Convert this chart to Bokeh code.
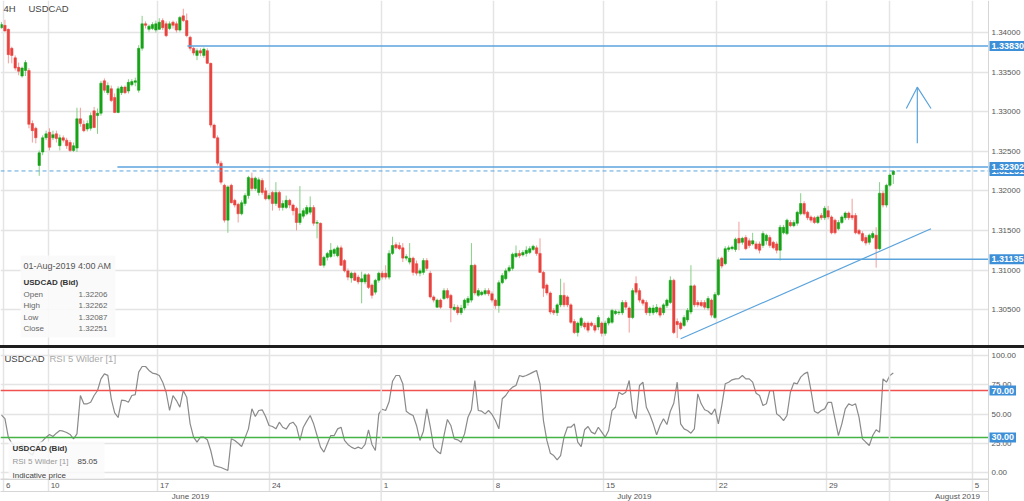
from bokeh.plotting import figure
from bokeh.models import (ColumnDataSource, FixedTicker, Range1d,
                          Label, BoxAnnotation, Span, Div)
from bokeh.layouts import column
from bokeh.embed import file_html
from bokeh.resources import INLINE

# ---------------- data (USDCAD 4H candles) ----------------
open_ = [
1.3406, 1.3409, 1.3404, 1.3380, 1.3368, 1.3356, 1.3345, 1.3352, 1.3352, 1.3285,
1.3279, 1.3232, 1.3249, 1.3267, 1.3274, 1.3267, 1.3272, 1.3257, 1.3267, 1.3264,
1.3261, 1.3251, 1.3254, 1.3291, 1.3284, 1.3278, 1.3279, 1.3301, 1.3295, 1.3298,
1.3339, 1.3324, 1.3329, 1.3318, 1.3299, 1.3324, 1.3331, 1.3326, 1.3334, 1.3337,
1.3327, 1.3380, 1.3411, 1.3404, 1.3405, 1.3403, 1.3404, 1.3415, 1.3411, 1.3405,
1.3413, 1.3411, 1.3403, 1.3421, 1.3415, 1.3394, 1.3380, 1.3371, 1.3377, 1.3371,
1.3377, 1.3361, 1.3283, 1.3267, 1.3235, 1.3207, 1.3163, 1.3207, 1.3188, 1.3183,
1.3171, 1.3184, 1.3194, 1.3216, 1.3203, 1.3198, 1.3213, 1.3200, 1.3190, 1.3198,
1.3184, 1.3198, 1.3179, 1.3179, 1.3188, 1.3182, 1.3178, 1.3160, 1.3168, 1.3171,
1.3173, 1.3179, 1.3159, 1.3159, 1.3106, 1.3116, 1.3117, 1.3121, 1.3118, 1.3128,
1.3112, 1.3099, 1.3090, 1.3096, 1.3091, 1.3085, 1.3085, 1.3094, 1.3081, 1.3072,
1.3087, 1.3096, 1.3096, 1.3091, 1.3121, 1.3132, 1.3131, 1.3128, 1.3115, 1.3110,
1.3115, 1.3108, 1.3096, 1.3097, 1.3112, 1.3096, 1.3066, 1.3053, 1.3062, 1.3064,
1.3074, 1.3068, 1.3050, 1.3053, 1.3046, 1.3052, 1.3059, 1.3062, 1.3106, 1.3068,
1.3069, 1.3070, 1.3074, 1.3070, 1.3062, 1.3055, 1.3084, 1.3089, 1.3099, 1.3102,
1.3117, 1.3121, 1.3119, 1.3121, 1.3122, 1.3126, 1.3128, 1.3121, 1.3097, 1.3081,
1.3071, 1.3049, 1.3046, 1.3056, 1.3068, 1.3066, 1.3056, 1.3035, 1.3021, 1.3030,
1.3033, 1.3033, 1.3033, 1.3030, 1.3028, 1.3033, 1.3020, 1.3033, 1.3034, 1.3045,
1.3046, 1.3046, 1.3059, 1.3052, 1.3040, 1.3083, 1.3074, 1.3062, 1.3059, 1.3046,
1.3046, 1.3047, 1.3052, 1.3046, 1.3055, 1.3059, 1.3087, 1.3035, 1.3033, 1.3030,
1.3037, 1.3047, 1.3080, 1.3059, 1.3059, 1.3059, 1.3052, 1.3062, 1.3040, 1.3069,
1.3115, 1.3108, 1.3126, 1.3127, 1.3126, 1.3140, 1.3135, 1.3141, 1.3137, 1.3133,
1.3133, 1.3133, 1.3131, 1.3137, 1.3141, 1.3135, 1.3133, 1.3125, 1.3147, 1.3146,
1.3160, 1.3156, 1.3159, 1.3171, 1.3184, 1.3173, 1.3167, 1.3166, 1.3160, 1.3169,
1.3166, 1.3175, 1.3167, 1.3163, 1.3152, 1.3160, 1.3166, 1.3172, 1.3169, 1.3169,
1.3150, 1.3146, 1.3141, 1.3135, 1.3141, 1.3144, 1.3127, 1.3197, 1.3182, 1.3207,
1.32206]

close_ = [
1.3410, 1.3402, 1.3372, 1.3371, 1.3355, 1.3351, 1.3355, 1.3362, 1.3284, 1.3276,
1.3267, 1.3248, 1.3267, 1.3272, 1.3255, 1.3271, 1.3266, 1.3267, 1.3264, 1.3257,
1.3251, 1.3257, 1.3291, 1.3285, 1.3276, 1.3285, 1.3295, 1.3280, 1.3298, 1.3336,
1.3327, 1.3333, 1.3314, 1.3299, 1.3329, 1.3331, 1.3324, 1.3337, 1.3338, 1.3339,
1.3380, 1.3411, 1.3409, 1.3408, 1.3410, 1.3411, 1.3413, 1.3406, 1.3396, 1.3411,
1.3409, 1.3403, 1.3419, 1.3415, 1.3396, 1.3380, 1.3374, 1.3377, 1.3374, 1.3379,
1.3361, 1.3283, 1.3267, 1.3235, 1.3211, 1.3163, 1.3205, 1.3185, 1.3182, 1.3171,
1.3185, 1.3194, 1.3217, 1.3203, 1.3216, 1.3214, 1.3198, 1.3190, 1.3194, 1.3184,
1.3198, 1.3179, 1.3184, 1.3188, 1.3182, 1.3175, 1.3160, 1.3171, 1.3175, 1.3179,
1.3179, 1.3159, 1.3160, 1.3106, 1.3116, 1.3121, 1.3125, 1.3126, 1.3128, 1.3106,
1.3099, 1.3091, 1.3096, 1.3087, 1.3085, 1.3089, 1.3094, 1.3078, 1.3068, 1.3087,
1.3096, 1.3091, 1.3091, 1.3121, 1.3131, 1.3128, 1.3127, 1.3115, 1.3117, 1.3115,
1.3097, 1.3096, 1.3099, 1.3112, 1.3102, 1.3066, 1.3062, 1.3062, 1.3053, 1.3074,
1.3065, 1.3052, 1.3053, 1.3046, 1.3052, 1.3062, 1.3064, 1.3106, 1.3071, 1.3074,
1.3072, 1.3074, 1.3070, 1.3062, 1.3055, 1.3084, 1.3093, 1.3099, 1.3103, 1.3120,
1.3121, 1.3118, 1.3122, 1.3125, 1.3127, 1.3130, 1.3121, 1.3097, 1.3077, 1.3071,
1.3047, 1.3046, 1.3056, 1.3068, 1.3056, 1.3056, 1.3034, 1.3021, 1.3033, 1.3039,
1.3028, 1.3024, 1.3030, 1.3024, 1.3040, 1.3020, 1.3033, 1.3039, 1.3049, 1.3048,
1.3047, 1.3059, 1.3053, 1.3040, 1.3074, 1.3072, 1.3062, 1.3058, 1.3046, 1.3052,
1.3052, 1.3053, 1.3043, 1.3056, 1.3062, 1.3087, 1.3021, 1.3031, 1.3026, 1.3040,
1.3049, 1.3080, 1.3056, 1.3056, 1.3055, 1.3053, 1.3064, 1.3043, 1.3069, 1.3113,
1.3105, 1.3127, 1.3128, 1.3129, 1.3139, 1.3134, 1.3140, 1.3127, 1.3131, 1.3137,
1.3127, 1.3125, 1.3146, 1.3144, 1.3131, 1.3128, 1.3125, 1.3154, 1.3154, 1.3163,
1.3156, 1.3160, 1.3173, 1.3184, 1.3171, 1.3166, 1.3163, 1.3160, 1.3167, 1.3166,
1.3178, 1.3167, 1.3147, 1.3147, 1.3160, 1.3167, 1.3172, 1.3166, 1.3166, 1.3147,
1.3146, 1.3137, 1.3134, 1.3144, 1.3146, 1.3127, 1.3197, 1.3182, 1.3207, 1.3220,
1.32251]

high_ = [
1.3413, 1.3416, 1.3405, 1.3382, 1.3371, 1.3362, 1.3357, 1.3365, 1.3355, 1.3289,
1.3281, 1.3251, 1.3270, 1.3276, 1.3279, 1.3276, 1.3276, 1.3271, 1.3270, 1.3267,
1.3264, 1.3261, 1.3305, 1.3305, 1.3289, 1.3289, 1.3299, 1.3306, 1.3304, 1.3339,
1.3342, 1.3337, 1.3333, 1.3323, 1.3332, 1.3333, 1.3333, 1.3341, 1.3341, 1.3343,
1.3384, 1.3421, 1.3414, 1.3410, 1.3413, 1.3415, 1.3418, 1.3418, 1.3414, 1.3414,
1.3415, 1.3414, 1.3421, 1.3430, 1.3424, 1.3396, 1.3382, 1.3380, 1.3380, 1.3381,
1.3380, 1.3362, 1.3285, 1.3270, 1.3238, 1.3209, 1.3207, 1.3209, 1.3190, 1.3185,
1.3188, 1.3197, 1.3219, 1.3223, 1.3218, 1.3217, 1.3216, 1.3204, 1.3197, 1.3200,
1.3211, 1.3200, 1.3188, 1.3194, 1.3190, 1.3184, 1.3180, 1.3206, 1.3178, 1.3182,
1.3193, 1.3182, 1.3163, 1.3160, 1.3118, 1.3123, 1.3134, 1.3128, 1.3131, 1.3131,
1.3114, 1.3102, 1.3098, 1.3098, 1.3094, 1.3098, 1.3096, 1.3096, 1.3083, 1.3089,
1.3098, 1.3099, 1.3106, 1.3125, 1.3142, 1.3135, 1.3135, 1.3134, 1.3120, 1.3134,
1.3117, 1.3112, 1.3102, 1.3115, 1.3115, 1.3099, 1.3068, 1.3064, 1.3064, 1.3077,
1.3077, 1.3070, 1.3057, 1.3056, 1.3056, 1.3064, 1.3067, 1.3134, 1.3108, 1.3077,
1.3074, 1.3077, 1.3077, 1.3073, 1.3064, 1.3087, 1.3096, 1.3102, 1.3106, 1.3122,
1.3131, 1.3125, 1.3125, 1.3130, 1.3130, 1.3132, 1.3131, 1.3140, 1.3099, 1.3083,
1.3073, 1.3052, 1.3058, 1.3089, 1.3084, 1.3068, 1.3058, 1.3038, 1.3035, 1.3041,
1.3035, 1.3035, 1.3035, 1.3033, 1.3043, 1.3035, 1.3036, 1.3041, 1.3051, 1.3050,
1.3049, 1.3062, 1.3062, 1.3054, 1.3077, 1.3092, 1.3077, 1.3064, 1.3062, 1.3054,
1.3056, 1.3057, 1.3054, 1.3058, 1.3064, 1.3092, 1.3089, 1.3039, 1.3035, 1.3043,
1.3052, 1.3106, 1.3082, 1.3062, 1.3062, 1.3062, 1.3067, 1.3064, 1.3072, 1.3116,
1.3117, 1.3130, 1.3131, 1.3131, 1.3141, 1.3161, 1.3142, 1.3144, 1.3140, 1.3147,
1.3136, 1.3136, 1.3149, 1.3146, 1.3144, 1.3137, 1.3136, 1.3157, 1.3157, 1.3165,
1.3163, 1.3163, 1.3175, 1.3197, 1.3187, 1.3175, 1.3169, 1.3168, 1.3169, 1.3172,
1.3181, 1.3181, 1.3169, 1.3165, 1.3163, 1.3169, 1.3174, 1.3174, 1.3190, 1.3172,
1.3152, 1.3149, 1.3144, 1.3146, 1.3149, 1.3154, 1.3211, 1.3200, 1.3209, 1.3222,
1.32262]

low_ = [
1.3405, 1.3401, 1.3361, 1.3361, 1.3352, 1.3346, 1.3343, 1.3345, 1.3279, 1.3261,
1.3260, 1.3219, 1.3245, 1.3264, 1.3251, 1.3264, 1.3261, 1.3251, 1.3261, 1.3253,
1.3249, 1.3249, 1.3249, 1.3281, 1.3274, 1.3275, 1.3276, 1.3279, 1.3272, 1.3295,
1.3324, 1.3321, 1.3312, 1.3298, 1.3298, 1.3321, 1.3322, 1.3323, 1.3332, 1.3332,
1.3324, 1.3377, 1.3405, 1.3401, 1.3403, 1.3400, 1.3403, 1.3403, 1.3394, 1.3403,
1.3405, 1.3400, 1.3401, 1.3413, 1.3394, 1.3377, 1.3371, 1.3365, 1.3370, 1.3368,
1.3360, 1.3280, 1.3266, 1.3232, 1.3208, 1.3160, 1.3147, 1.3184, 1.3179, 1.3160,
1.3169, 1.3181, 1.3190, 1.3200, 1.3200, 1.3194, 1.3195, 1.3188, 1.3188, 1.3175,
1.3181, 1.3175, 1.3175, 1.3177, 1.3178, 1.3169, 1.3150, 1.3157, 1.3165, 1.3169,
1.3170, 1.3156, 1.3140, 1.3105, 1.3103, 1.3112, 1.3115, 1.3117, 1.3116, 1.3105,
1.3097, 1.3087, 1.3084, 1.3086, 1.3082, 1.3058, 1.3082, 1.3076, 1.3064, 1.3069,
1.3084, 1.3088, 1.3088, 1.3088, 1.3119, 1.3126, 1.3125, 1.3110, 1.3112, 1.3107,
1.3093, 1.3093, 1.3092, 1.3094, 1.3099, 1.3064, 1.3059, 1.3052, 1.3051, 1.3062,
1.3063, 1.3034, 1.3048, 1.3043, 1.3043, 1.3049, 1.3055, 1.3059, 1.3068, 1.3066,
1.3067, 1.3068, 1.3067, 1.3059, 1.3051, 1.3046, 1.3082, 1.3087, 1.3097, 1.3099,
1.3115, 1.3115, 1.3117, 1.3117, 1.3120, 1.3124, 1.3118, 1.3096, 1.3066, 1.3068,
1.3044, 1.3043, 1.3042, 1.3053, 1.3053, 1.3053, 1.3032, 1.3019, 1.3016, 1.3027,
1.3025, 1.3021, 1.3028, 1.3021, 1.3024, 1.3016, 1.3017, 1.3030, 1.3032, 1.3043,
1.3043, 1.3043, 1.3050, 1.3021, 1.3038, 1.3069, 1.3059, 1.3055, 1.3043, 1.3042,
1.3043, 1.3045, 1.3040, 1.3043, 1.3052, 1.3057, 1.3019, 1.3014, 1.3024, 1.3028,
1.3034, 1.3044, 1.3053, 1.3053, 1.3053, 1.3050, 1.3049, 1.3040, 1.3038, 1.3067,
1.3102, 1.3106, 1.3123, 1.3125, 1.3123, 1.3125, 1.3132, 1.3125, 1.3128, 1.3131,
1.3125, 1.3121, 1.3128, 1.3132, 1.3128, 1.3126, 1.3121, 1.3112, 1.3145, 1.3144,
1.3154, 1.3154, 1.3156, 1.3169, 1.3169, 1.3163, 1.3160, 1.3158, 1.3158, 1.3163,
1.3163, 1.3164, 1.3145, 1.3145, 1.3150, 1.3158, 1.3163, 1.3163, 1.3163, 1.3145,
1.3144, 1.3135, 1.3131, 1.3132, 1.3139, 1.3103, 1.3125, 1.3179, 1.3179, 1.3205,
1.32087]

rsi_ = [
49, 46, 30, 25, 22, 20, 24, 22, 17, 15,
21, 25, 27, 30.2, 32.5, 30.8, 33.6, 35.9, 35.3, 34.2,
32.5, 28.8, 33.0, 65.8, 58.7, 58.7, 60.0, 65.8, 70.1, 80.0,
84.3, 83.0, 63.0, 51.0, 47.0, 61.8, 61.5, 60.0, 65.8, 66.5,
85.8, 90.6, 90.6, 87.2, 85.0, 84.3, 82.9, 77.2, 68.6, 53.0,
65.8, 61.5, 55.8, 70.1, 64.4, 41.6, 30.2, 25.9, 30.2, 30.2,
28.0, 18.8, 6.0, 5.0, 4.3, 3.0, 1.7, 28.8, 27.4, 25.0,
22.2, 29.6, 37.3, 54.4, 47.8, 53.0, 53.6, 47.8, 40.2, 39.3,
37.3, 43.0, 38.7, 37.1, 41.6, 43.0, 39.3, 27.4, 38.7, 43.9,
48.7, 41.6, 31.6, 21.7, 17.4, 24.5, 31.6, 31.6, 37.3, 38.7,
27.4, 24.0, 21.7, 20.3, 21.7, 20.3, 24.0, 36.5, 24.0, 18.8,
50.1, 54.1, 53.0, 60.4, 78.0, 82.9, 82.9, 75.8, 52.4, 50.1,
48.7, 40.2, 27.4, 35.3, 54.4, 39.3, 21.7, 18.2, 16.0, 31.6,
45.3, 40.2, 28.8, 27.9, 25.9, 33.0, 47.3, 53.6, 78.6, 53.0,
52.4, 50.1, 53.0, 49.6, 44.4, 37.3, 63.0, 65.8, 70.1, 73.0,
74.4, 82.9, 82.0, 82.9, 84.3, 85.8, 87.2, 75.8, 44.4, 27.4,
16.5, 14.5, 10.8, 14.5, 30.2, 38.7, 38.7, 41.6, 25.9, 22.2,
36.5, 39.3, 34.5, 33.0, 38.7, 34.5, 30.2, 35.9, 53.0, 55.8,
68.6, 66.7, 68.6, 78.6, 53.0, 45.9, 74.4, 77.2, 55.8, 49.6,
41.6, 32.2, 40.2, 45.9, 41.0, 52.4, 59.2, 77.2, 41.6, 37.3,
35.9, 33.6, 37.3, 67.2, 58.7, 53.6, 52.4, 49.6, 54.4, 41.6,
57.3, 75.8, 77.2, 79.2, 80.0, 80.3, 82.9, 80.0, 80.0, 77.2,
67.7, 65.8, 57.3, 58.7, 70.1, 70.0, 50.1, 47.8, 44.4, 48.7,
68.6, 76.6, 75.8, 81.5, 84.3, 85.8, 70.1, 52.4, 50.7, 53.0,
54.4, 60.0, 60.0, 45.9, 31.6, 41.6, 54.4, 58.7, 57.3, 58.7,
47.3, 28.8, 25.9, 23.1, 31.6, 36.5, 34.5, 80.0, 77.2, 82.9,
85.05]

assert len(open_) == len(close_) == len(high_) == len(low_) == len(rsi_)

# axis ticks (x in 4H-bar units)
day_tick_bars = [0.6, 13.6, 45.5, 78.1, 110.7, 143.4, 175.5, 208.4, 240.5, 258.9, 283.0]
day_tick_labels = ["6", "10", "17", "24", "1", "8", "15", "22", "29", "", "5"]
month_start_bars = [110.7, 258.9]
month_label_bars = [55.1, 184.5, 278.7]
month_labels = ["June 2019", "July 2019", "August 2019"]
price_ticks = [1.305, 1.310, 1.315, 1.320, 1.325, 1.330, 1.335, 1.340]
rsi_ticks = [0, 25, 50, 75, 100]

# chart drawings
level_prices = [1.33830, 1.32302, 1.31135]
level_start_bars = [54.2, 33.8, 215.2]
last_price = 1.32251
trend_bars = [198.0, 271.0]
trend_prices = [1.30131, 1.31521]
arrow_shaft_bars = [267.0, 267.0]
arrow_shaft_prices = [1.32602, 1.33309]
arrow_head_bars = [263.8, 267.0, 271.0]
arrow_head_prices = [1.33040, 1.33309, 1.33040]
rsi_levels = [70, 30]

# ---------------- layout helpers (page pixel -> data units) ----------------
FONT = "Liberation Sans"
FIG_W = 1024
TOP_H, SEP_H, RSI_H = 345, 3, 153
PX_PER_BAR = 3.43
AXIS_X = 988          # left edge of the value-axis column


def X(px):
    return (px - 1) / PX_PER_BAR


def PY(py):
    return 1.34404 - py * 0.0001263


def RY(py):
    return (472 - py) / 1.17


GREEN, GREEN_W = "#17a317", "#86cf86"
RED, RED_W = "#e8433e", "#f19e9b"
BLUE = "#5ba3dc"
TAG = "#3d8fd8"
GRID = "#e4e4e4"
AXC = "#d6d6d6"

n = len(close_)
bars = list(range(n))
up = [c >= o for o, c in zip(open_, close_)]
src = ColumnDataSource(dict(
    x=bars, o=open_, h=high_, l=low_, c=close_,
    top=[max(o, c) for o, c in zip(open_, close_)],
    bot=[min(o, c) for o, c in zip(open_, close_)],
    col=[GREEN if u else RED for u in up],
    wcol=[GREEN_W if u else RED_W for u in up],
))

xr = Range1d(X(0), X(FIG_W))


def base_fig(h, yr):
    f = figure(width=FIG_W, height=h, x_range=xr, y_range=yr, output_backend="svg",
               toolbar_location=None, x_axis_location=None, y_axis_location=None,
               min_border=0, min_border_left=0, min_border_right=0,
               min_border_top=0, min_border_bottom=0)
    f.outline_line_color = None
    f.background_fill_color = "white"
    f.border_fill_color = "white"
    f.xgrid.ticker = FixedTicker(ticks=day_tick_bars)
    for g in f.xgrid + f.ygrid:
        g.grid_line_color = GRID
        g.grid_line_width = 1.5
    return f


def txt(fig, x, y, s, size="8px", color="#555555", bold=False, align="left", base="middle"):
    fig.add_layout(Label(x=x, y=y, text=s, text_font=FONT, text_font_size=size,
                         text_color=color, text_font_style="bold" if bold else "normal",
                         text_align=align, text_baseline=base))


def tag(fig, y, s):
    fig.add_layout(Label(x=X(AXIS_X + 1), y=y, text=s, text_font=FONT, text_font_size="9px",
                         text_font_style="bold", text_color="white", text_baseline="middle",
                         text_align="left", background_fill_color=TAG, padding=2))


def value_column(fig, ybot, ytop):
    fig.add_layout(BoxAnnotation(left=X(AXIS_X), right=X(FIG_W + 5), bottom=ybot, top=ytop,
                                 fill_color="white", fill_alpha=1.0, line_color=None))
    fig.add_layout(Span(location=X(AXIS_X), dimension="height", line_color=AXC, line_width=1))


# ---------------- top (price) panel ----------------
p1 = base_fig(TOP_H, Range1d(PY(TOP_H), PY(0)))
p1.ygrid.ticker = FixedTicker(ticks=price_ticks)

p1.segment(x0="x", y0="h", x1="x", y1="l", line_color="wcol", line_width=1, source=src)
p1.vbar(x="x", width=0.72, top="top", bottom="bot", fill_color="col",
        line_color="col", line_width=0.5, source=src)

p1.segment(x0=level_start_bars, y0=level_prices, x1=[X(FIG_W)] * len(level_prices),
           y1=level_prices, line_color=BLUE, line_width=1.5)
p1.add_layout(Span(location=last_price, dimension="width", line_color=BLUE,
                   line_width=1, line_dash="4 3"))
p1.line(trend_bars, trend_prices, line_color=BLUE, line_width=1.2)
p1.line(arrow_shaft_bars, arrow_shaft_prices, line_color=BLUE, line_width=1.2)
p1.line(arrow_head_bars, arrow_head_prices, line_color=BLUE, line_width=1.2)

# title
txt(p1, X(3), PY(8), "4H", size="9.5px", color="#444444")
txt(p1, X(28), PY(8), "USDCAD", size="9.5px", color="#444444")

# info box
p1.add_layout(BoxAnnotation(left=X(20), right=X(115), top=PY(255), bottom=PY(337),
                            fill_color="#fafafa", fill_alpha=0.9, line_color=None))
txt(p1, X(23), PY(265), "01-Aug-2019 4:00 AM", size="9px", color="#555555")
txt(p1, X(23), PY(282), "USDCAD (Bid)", size="8px", color="#333333", bold=True)
ohlc_names = ["Open", "High", "Low", "Close"]
ohlc_vals = [open_[-1], high_[-1], low_[-1], close_[-1]]
for k, (nm, v) in enumerate(zip(ohlc_names, ohlc_vals)):
    yy = PY(294 + 11.3 * k)
    txt(p1, X(23), yy, nm, color="#666666")
    txt(p1, X(107), yy, "%.5f" % v, color="#666666", align="right")

# value axis column
value_column(p1, PY(TOP_H + 5), PY(-5))
for t in price_ticks:
    txt(p1, X(AXIS_X + 3), t, "%.5f" % t, color="#555555")
for pr in [last_price, level_prices[0], level_prices[1], level_prices[2]]:
    tag(p1, pr, "%.5f" % pr)

# ---------------- separator ----------------
sep = Div(text="", width=FIG_W, height=SEP_H, margin=0,
          styles={"background-color": "#1e1e1e"})

# ---------------- RSI panel ----------------
p2 = base_fig(RSI_H, Range1d(RY(348 + RSI_H), RY(348)))
p2.ygrid.ticker = FixedTicker(ticks=rsi_ticks)

p2.add_layout(Span(location=rsi_levels[0], dimension="width", line_color="#f0524f", line_width=1.5))
p2.add_layout(Span(location=rsi_levels[1], dimension="width", line_color="#45b445", line_width=1.5))
p2.line(bars, rsi_, line_color="#8a8a8a", line_width=1.2)

# time axis rows (frame bottom at y=478, label rows below)
p2.add_layout(BoxAnnotation(left=X(-5), right=X(FIG_W + 5), top=RY(491.5), bottom=RY(510),
                            fill_color="white", fill_alpha=1.0, line_color=None))
p2.add_layout(BoxAnnotation(left=X(-5), right=X(FIG_W + 5), top=RY(478), bottom=RY(479.5),
                            fill_color=AXC, fill_alpha=1.0, line_color=None))
p2.add_layout(BoxAnnotation(left=X(-5), right=X(FIG_W + 5), top=RY(490.5), bottom=RY(491.5),
                            fill_color=AXC, fill_alpha=1.0, line_color=None))
for b in month_start_bars:
    p2.add_layout(Span(location=b, dimension="height", line_color=GRID, line_width=1.5))
for b, s in zip(day_tick_bars, day_tick_labels):
    txt(p2, b + 2.5 / PX_PER_BAR, RY(485), s, color="#555555")
for b, s in zip(month_label_bars, month_labels):
    txt(p2, b, RY(495.5), s, color="#555555", align="center")

txt(p2, X(4), RY(358), "USDCAD", size="9.5px", color="#444444")
txt(p2, X(49), RY(358), "RSI 5 Wilder [1]", size="9.5px", color="#aaaaaa")

p2.add_layout(BoxAnnotation(left=X(8), right=X(104), top=RY(441), bottom=RY(478),
                            fill_color="#fafafa", fill_alpha=0.85, line_color=None))
txt(p2, X(12), RY(448), "USDCAD (Bid)", color="#333333", bold=True)
txt(p2, X(12), RY(461), "RSI 5 Wilder [1]", color="#999999")
txt(p2, X(77), RY(461), "%.2f" % rsi_[-1], color="#444444")
txt(p2, X(12), RY(474.5), "Indicative price", color="#444444")

value_column(p2, RY(510), RY(340))
for t in rsi_ticks:
    txt(p2, X(AXIS_X + 3), t, "%.2f" % t, color="#555555")
for lv in rsi_levels:
    tag(p2, lv, "%.2f" % lv)

layout = column(p1, sep, p2, spacing=0)
open("out.html", "w").write(file_html(layout, INLINE))
